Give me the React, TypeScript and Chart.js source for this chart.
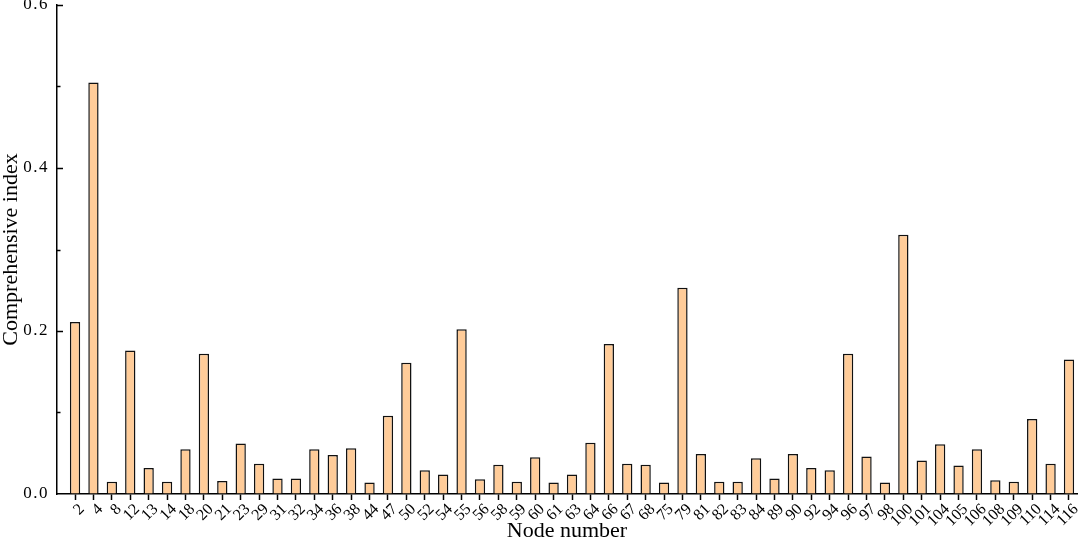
import React, { useEffect, useRef } from "react";
import { Chart, registerables } from "chart.js";

Chart.register(...registerables);

const nodeLabels = [
  "2", "4", "8", "12", "13", "14", "18", "20", "21", "23",
  "29", "31", "32", "34", "36", "38", "44", "47", "50", "52",
  "54", "55", "56", "58", "59", "60", "61", "63", "64", "66",
  "67", "68", "75", "79", "81", "82", "83", "84", "89", "90",
  "92", "94", "96", "97", "98", "100", "101", "104", "105", "106",
  "108", "109", "110", "114", "116",
];

const indexValues = [
  0.211, 0.505, 0.015, 0.176, 0.032, 0.015, 0.055, 0.172, 0.016, 0.062,
  0.037, 0.019, 0.019, 0.055, 0.048, 0.056, 0.014, 0.096, 0.161, 0.029,
  0.024, 0.202, 0.018, 0.036, 0.015, 0.045, 0.014, 0.024, 0.063, 0.184,
  0.037, 0.036, 0.014, 0.253, 0.049, 0.015, 0.015, 0.044, 0.019, 0.049,
  0.032, 0.029, 0.172, 0.046, 0.014, 0.318, 0.041, 0.061, 0.035, 0.055,
  0.017, 0.015, 0.092, 0.037, 0.165,
];

const yMajorTicks = [0.2, 0.4, 0.6];
const yMinorTicks = [0.1, 0.3, 0.5];

const SERIF = "'Liberation Serif', 'Times New Roman', serif";

function spaceLabels(spacing: string) {
  return (scale: any) => {
    if (scale.__spaced) return;
    scale.__spaced = true;
    const orig = scale.drawLabels;
    scale.drawLabels = function (area: any) {
      const ctx = this.ctx;
      ctx.save();
      try {
        (ctx as any).letterSpacing = spacing;
      } catch (e) {}
      orig.call(this, area);
      ctx.restore();
    };
  };
}

export default function App() {
  const canvasRef = useRef<HTMLCanvasElement | null>(null);

  useEffect(() => {
    const canvas = canvasRef.current;
    if (!canvas) return;

    const innerTicks = {
      id: "innerTicks",
      afterDraw(chart: any) {
        const { ctx, chartArea, scales } = chart;
        const y = scales.y;
        ctx.save();
        ctx.strokeStyle = "#000";
        ctx.lineWidth = 1.5;
        const x0 = chartArea.left;
        yMajorTicks.forEach((v) => {
          const py = Math.round(y.getPixelForValue(v)) + 0.5;
          ctx.beginPath();
          ctx.moveTo(x0, py);
          ctx.lineTo(x0 + 6, py);
          ctx.stroke();
        });
        yMinorTicks.forEach((v) => {
          const py = Math.round(y.getPixelForValue(v)) + 0.5;
          ctx.beginPath();
          ctx.moveTo(x0, py);
          ctx.lineTo(x0 + 3.5, py);
          ctx.stroke();
        });
        ctx.restore();
      },
    };

    const chart = new Chart(canvas, {
      type: "bar",
      data: {
        datasets: [
          {
            data: indexValues.map((v, i) => ({ x: i, y: v })),
            backgroundColor: "rgb(255, 204, 153)",
            borderColor: "#111",
            borderWidth: 1.5,
            barPercentage: 0.56,
            categoryPercentage: 1,
          },
        ],
      },
      options: {
        responsive: false,
        animation: false,
        devicePixelRatio: 1,
        layout: { padding: { top: 5, right: 2, left: 0, bottom: 0 } },
        plugins: {
          legend: { display: false },
          tooltip: { enabled: false },
        },
        scales: {
          x: {
            type: "linear",
            offset: false,
            min: -0.98,
            max: 54.435,
            afterBuildTicks: (scale: any) => {
              scale.ticks = nodeLabels.map((_, i) => ({ value: i }));
            },
            afterFit: (scale: any) => {
              scale.height = 50;
              scale.paddingLeft = 0;
              scale.paddingRight = 0;
            },
            grid: {
              offset: false,
              display: true,
              drawOnChartArea: false,
              drawTicks: true,
              tickLength: 6,
              tickColor: "#000",
              tickWidth: 1.5,
            },
            border: { display: true, color: "#000", width: 1.5 },
            ticks: {
              autoSkip: false,
              minRotation: 45,
              maxRotation: 45,
              padding: 0,
              labelOffset: 7,
              color: "#000",
              font: { family: SERIF, size: 16 },
              callback: (v: any) => nodeLabels[Math.round(Number(v))] ?? "",
            },
            title: {
              display: true,
              text: "Node number",
              color: "#000",
              font: { family: SERIF, size: 22 },
              padding: { top: 0, bottom: 0 },
            },
          },
          y: {
            min: 0,
            max: 0.6,
            afterFit: (scale: any) => {
              scale.width = 57;
              scale.paddingTop = 0;
              scale.paddingBottom = 0;
            },
            afterUpdate: spaceLabels("1.5px"),
            grid: {
              display: true,
              drawOnChartArea: false,
              drawTicks: false,
            },
            border: { display: true, color: "#000", width: 1.5 },
            ticks: {
              stepSize: 0.2,
              padding: 8,
              color: "#000",
              font: { family: SERIF, size: 17 },
              callback: (v: any) => Number(v).toFixed(1),
            },
            title: {
              display: true,
              text: "Comprehensive index",
              color: "#000",
              font: { family: SERIF, size: 22, lineHeight: 1 },
              padding: { top: 0, bottom: 0 },
            },
          },
        },
      },
      plugins: [innerTicks],
    });

    return () => chart.destroy();
  }, []);

  return (
    <div style={{ position: "fixed", left: 0, top: 0, width: 1079, height: 544, background: "#fff" }}>
      <canvas ref={canvasRef} width={1079} height={544} style={{ display: "block" }} />
    </div>
  );
}
